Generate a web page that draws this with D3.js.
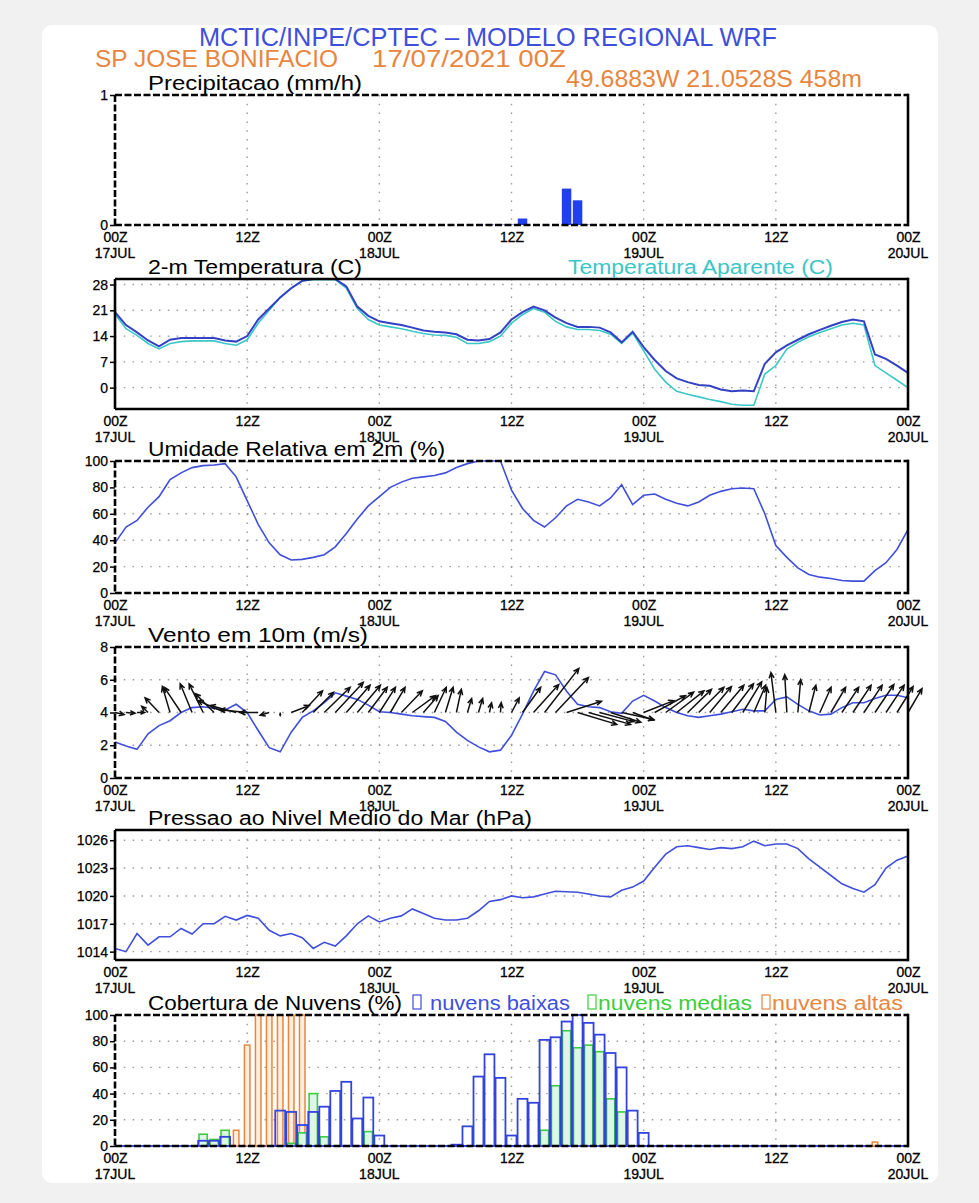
<!DOCTYPE html>
<html><head><meta charset="utf-8">
<script src="https://cdn.jsdelivr.net/npm/d3@7"></script>
<style>body{margin:0;background:#f1f1f1;}svg{display:block}</style>
</head><body><svg id="c" width="979" height="1203"></svg>
<script>
// ---------- DATA ----------
const xTicks = [0, 12, 24, 36, 48, 60, 72];
const xTickHour = ["00Z", "12Z", "00Z", "12Z", "00Z", "12Z", "00Z"];
const xTickDate = ["17JUL", "", "18JUL", "", "19JUL", "", "20JUL"];

const precip = [0,0,0,0,0,0,0,0,0,0, 0,0,0,0,0,0,0,0,0,0, 0,0,0,0,0,0,0,0,0,0,
  0,0,0,0,0.006,0.006,0.006,0.05,0,0, 0,0.28,0.19,0.006,0,0,0,0,0,0,
  0,0,0,0,0,0,0,0,0,0, 0,0,0,0,0,0,0,0,0,0, 0,0,0];
const temp2m = [20.5,17,15,12.8,11.2,13,13.5,13.5,13.5,13.5, 12.8,12.5,14,18.5,21.5,24.5,27,29,29.5,29.5,
  29.5,27.5,22,19.5,18,17.5,17,16.3,15.5,15.2, 15,14.5,13,12.8,13.2,15,18.5,20.5,22,21,
  19,17.5,16.5,16.5,16.3,15,12.3,15.2,11,7.5, 4.5,2.5,1.5,0.7,0.5,-0.5,-1,-0.8,-1,6.5,
  9.6,11.5,13,14.5,15.7,16.8,17.8,18.5,18,9, 7.8,6,4];
const tempApparent = [20,16,14.2,12,10.5,12,12.5,12.7,12.7,12.7, 12,11.5,13,17.5,21,24.5,27,29,29.3,29.3,
  29.3,27,21.5,18.5,17,16.5,16,15.3,14.7,14.3, 14.2,13.7,12,12,12.5,14,17.5,19.8,21.5,20.5,
  18,16.5,15.8,15.8,15.5,14.5,12,14.8,10,5, 1.5,-1,-1.8,-2.5,-3.2,-3.8,-4.5,-4.8,-4.8,3.7,
  6,10.5,12.3,13.8,15,16,17,17.5,17,6, 4,2,0];
const humidity = [38,50,55,65,73,86,91,95,96.5,97, 98,88,70,52,38,29,25,25.5,27,29,
  35,45,56,66,73,80,84,87,88,89, 91,95,98,100,100,100,78,64,55,50,
  57,66,71,69,66,72,82,67,74,75, 71,68,66,69,74,77,79,79.5,79,60,
  36,27,19,14,12,11,9.5,9,9,17, 23,33,48];
const windSpeed = [2.2,1.95,1.75,2.7,3.2,3.5,4.0,4.3,4.35,4.25, 4.15,4.5,4.0,2.9,1.85,1.6,2.8,3.7,4.1,4.6,
  5.2,5.0,4.8,4.45,4.05,4.0,3.9,3.8,3.75,3.7, 3.45,2.8,2.3,1.9,1.6,1.7,2.6,3.9,5.3,6.5,
  6.3,5.3,4.5,4.35,4.3,4.05,3.95,4.7,5.05,4.7, 4.3,4.0,3.8,3.7,3.8,3.9,4.05,4.2,4.1,4.1,
  4.8,4.95,4.5,4.1,3.85,3.9,4.3,4.6,4.6,4.85, 5.05,5.05,4.9];
const windU = [1.3,1.3,1.1,-0.9,-2.0,-1.1,-2.4,-1.7,-2.0,-2.7, -3.9,-3.7,-3.9,-2.6,-1.3,0,2.6,2.9,2.9,3.7,
  4.0,3.4,3.3,2.7,2.3,2.1,3.0,3.3,2.1,1.7, 1.1,0.7,0.6,0.6,0.3,0.1,1.1,2.6,3.6,4.9,
  4.7,5.0,5.6,6.0,4.9,4.3,4.6,3.0,4.3,4.4, 4.0,3.9,3.4,3.6,3.1,3.3,3.1,2.7,1.7,0.3,
  -0.7,-0.3,0.4,1.0,1.6,2.1,2.4,2.6,2.6,2.7, 2.6,2.3,2.0];
const windV = [-0.3,-0.1,0,0.9,2.1,3.7,3.6,4.1,4.1,2.7, 1.7,1.0,0.4,0,-0.4,-0.4,1.0,3.1,2.9,3.6,
  4.3,3.9,3.9,3.6,3.6,3.6,3.1,2.4,2.4,3.6, 3.6,3.3,2.0,2.0,1.4,1.4,2.1,3.6,4.0,6.3,
  5.0,1.6,-1.7,-1.7,-1.3,-1.4,-1.0,-1.1,1.7,2.4, 2.9,3.1,3.3,3.6,3.7,3.9,4.1,4.4,3.9,3.6,
  5.7,5.4,4.7,3.9,3.6,3.6,3.6,3.9,3.9,4.0, 3.9,3.7,3.4];
const pressure = [1014.35,1014.0,1015.95,1014.7,1015.6,1015.6,1016.5,1015.9,1017.0,1017.0,
  1017.8,1017.4,1017.9,1017.6,1016.3,1015.7,1015.95,1015.5,1014.35,1015.0,
  1014.6,1015.7,1017.0,1017.85,1017.2,1017.6,1017.85,1018.6,1018.1,1017.6,
  1017.4,1017.4,1017.6,1018.4,1019.4,1019.6,1020.0,1019.8,1019.9,1020.2,
  1020.5,1020.45,1020.4,1020.2,1020.0,1019.9,1020.6,1020.95,1021.6,1023.1,
  1024.5,1025.3,1025.4,1025.2,1025.0,1025.2,1025.1,1025.3,1025.9,1025.4,
  1025.6,1025.6,1025.1,1024.0,1023.1,1022.2,1021.3,1020.8,1020.4,1021.2,
  1023.0,1023.85,1024.3];
const cloudLow = [0,0,0,0,0,0,0,0,4,4, 7,0,0,0,0,27,26,16,26,30, 42,49,21,37,8,0,0,0,0,0,
  0,1,15,53,70,52,8,36,33,81, 83,95,100,94,85,71,60,27,10,0,
  0,0,0,0,0,0,0,0,0,0, 0,0,0,0,0,0,0,0,0,0, 0,0,0];
const cloudMid = [0,0,0,0,0,0,0,0,9,5, 12,0,0,0,0,0,2,10,40,7, 0,0,0,11,0,0,0,0,0,0,
  0,0,0,0,0,0,0,0,0,12, 46,88,75,77,72,36,26,0,0,0,
  0,0,0,0,0,0,0,0,0,0, 0,0,0,0,0,0,0,0,0,0, 0,0,0];
const cloudHigh = [0,0,0,0,0,0,0,0,0,0, 0,12,77,100,100,100,100,100,0,0, 0,0,0,0,0,0,0,0,0,0,
  0,0,0,0,0,0,0,0,0,0, 0,0,0,0,0,0,0,0,0,0,
  0,0,0,0,0,0,0,0,0,0, 0,0,0,0,0,0,0,0,0,3, 0,0,0];

// ---------- DRAW ----------
const svg = d3.select("#c");
const FONT = "'Liberation Sans','DejaVu Sans',Arial,sans-serif";
const BLUE = "#3f4fdc", ORANGE = "#e8863e", CYAN = "#3cc6c6", GREEN = "#3ccd3c";
svg.append("rect").attr("width", 979).attr("height", 1203).attr("fill", "#f1f1f1");
svg.append("rect").attr("x", 42).attr("y", 25).attr("width", 896).attr("height", 1158)
  .attr("rx", 10).attr("fill", "#fff");

const x = d3.scaleLinear().domain([0, 72]).range([115, 908]);
const hrs = d3.range(73);

function txt(str, px, py, size, fill, len, anchor) {
  const t = svg.append("text").attr("x", px).attr("y", py).text(str)
    .attr("font-family", FONT).attr("font-size", size).attr("fill", fill)
    .attr("text-anchor", anchor || "start");
  if (len) t.attr("textLength", len).attr("lengthAdjust", "spacingAndGlyphs");
  return t;
}

// header
txt("MCTIC/INPE/CPTEC \u2013 MODELO REGIONAL WRF", 199, 46, 25, BLUE, 578);
txt("SP JOSE BONIFACIO", 95, 67, 24, ORANGE, 243);
txt("17/07/2021 00Z", 372, 67, 24, ORANGE, 194);
txt("49.6883W 21.0528S 458m", 566, 87, 23, ORANGE, 296);

function panel(top, bottom, domain, ticks, dashed) {
  const y = d3.scaleLinear().domain(domain).range([bottom, top]);
  const grid = svg.append("g");
  const marks = svg.append("g");
  const frame = svg.append("g");
  grid.selectAll("line.h").data(ticks.filter(t => y(t) > top + 2 && y(t) < bottom - 2)).join("line")
    .attr("x1", 115).attr("x2", 908).attr("y1", d => y(d)).attr("y2", d => y(d))
    .attr("stroke", "#9a9a9a").attr("stroke-width", 1.4).attr("stroke-dasharray", "1.5,7.3");
  grid.selectAll("line.v").data([12, 24, 36, 48, 60]).join("line")
    .attr("x1", d => x(d)).attr("x2", d => x(d)).attr("y1", top).attr("y2", bottom)
    .attr("stroke", "#9a9a9a").attr("stroke-width", 1.4).attr("stroke-dasharray", "1.5,7.3");
  // y axis
  const ga = frame.append("g").attr("transform", "translate(115,0)")
    .call(d3.axisLeft(y).tickValues(ticks).tickSize(5).tickPadding(2).tickFormat(d3.format("d")));
  ga.select(".domain").remove();
  ga.selectAll("line").attr("stroke", "#000").attr("stroke-width", 1.5);
  ga.selectAll("text").attr("font-family", FONT).attr("font-size", 14).attr("fill", "#000")
    .attr("stroke", "#000").attr("stroke-width", 0.25);
  // x axis
  const gx = frame.append("g").attr("transform", `translate(0,${bottom})`)
    .call(d3.axisBottom(x).tickValues(xTicks).tickSize(0).tickPadding(7).tickFormat((d, i) => xTickHour[i]));
  gx.select(".domain").remove();
  gx.selectAll("text").attr("font-family", FONT).attr("font-size", 14).attr("fill", "#000")
    .attr("stroke", "#000").attr("stroke-width", 0.3);
  frame.selectAll("text.date").data(xTicks.filter((d, i) => xTickDate[i])).join("text")
    .attr("x", d => x(d)).attr("y", bottom + 33).attr("text-anchor", "middle")
    .attr("font-family", FONT).attr("font-size", 14).attr("stroke", "#000").attr("stroke-width", 0.3)
    .text(d => xTickDate[xTicks.indexOf(d)]);
  // box
  const da = dashed ? "7,2.5" : null;
  const seg = (x1, y1, x2, y2, d) => frame.append("line").attr("x1", x1).attr("y1", y1).attr("x2", x2).attr("y2", y2)
    .attr("stroke", "#000").attr("stroke-width", 2.6).attr("stroke-dasharray", d);
  seg(115, top, 908, top, da);
  seg(115, bottom, 908, bottom, da);
  seg(115, top, 115, bottom, da);
  seg(908, top - 1.3, 908, bottom + 1.3, null);
  return { y, marks, frame, top, bottom };
}

// 1. precipitation
{
  const p = panel(95, 225, [0, 1], [0, 1], true);
  txt("Precipitacao (mm/h)", 148, 90, 20, "#000", 214);
  p.marks.selectAll("rect").data(hrs.filter(h => precip[h] > 0)).join("rect")
    .attr("x", h => x(h - 0.43)).attr("width", x(0.86) - x(0))
    .attr("y", h => p.y(precip[h])).attr("height", h => p.y(0) - p.y(precip[h]))
    .attr("fill", h => precip[h] < 0.01 ? "#8090f0" : "#1f3ff0");
}
// 2. temperature
{
  const p = panel(279, 409, [-5.8, 29.5], [0, 7, 14, 21, 28], false);
  txt("2-m Temperatura (C)", 148, 274, 20, "#000", 214);
  txt("Temperatura Aparente (C)", 568, 274, 20, CYAN, 265);
  const line = d3.line().x(h => x(h));
  p.marks.append("path").attr("d", line.y(h => p.y(tempApparent[h]))(hrs))
    .attr("fill", "none").attr("stroke", CYAN).attr("stroke-width", 1.6);
  p.marks.append("path").attr("d", line.y(h => p.y(temp2m[h]))(hrs))
    .attr("fill", "none").attr("stroke", "#3341c4").attr("stroke-width", 2);
}
// 3. humidity
{
  const p = panel(461, 593, [0, 100], [0, 20, 40, 60, 80, 100], true);
  txt("Umidade Relativa em 2m (%)", 148, 456, 20, "#000", 297);
  p.marks.append("path").attr("d", d3.line().x(h => x(h)).y(h => p.y(humidity[h]))(hrs))
    .attr("fill", "none").attr("stroke", BLUE).attr("stroke-width", 1.6);
}
// 4. wind
{
  const p = panel(647, 778, [0, 8], [0, 2, 4, 6, 8], true);
  txt("Vento em 10m (m/s)", 148, 642, 20, "#000", 220);
  p.marks.append("path").attr("d", d3.line().x(h => x(h)).y(h => p.y(windSpeed[h]))(hrs))
    .attr("fill", "none").attr("stroke", BLUE).attr("stroke-width", 1.6);
  const k = 7, y0 = p.y(4);
  p.marks.selectAll("path.arr").data(hrs).join("path")
    .attr("d", h => {
      const x0 = x(h), dx = windU[h] * k, dy = -windV[h] * k;
      const L = Math.hypot(dx, dy);
      if (L < 0.5) return `M${x0},${y0}l0.5,0`;
      const ang = Math.atan2(dy, dx), hl = Math.min(6, L * 0.6), a = 0.42;
      const hx = x0 + dx, hy = y0 + dy;
      return `M${x0},${y0}L${hx},${hy}` +
        `M${hx - hl * Math.cos(ang - a)},${hy - hl * Math.sin(ang - a)}L${hx},${hy}` +
        `L${hx - hl * Math.cos(ang + a)},${hy - hl * Math.sin(ang + a)}`;
    })
    .attr("fill", "none").attr("stroke", "#111").attr("stroke-width", 1.5);
}
// 5. pressure
{
  const p = panel(830, 960, [1013.1, 1027.1], [1014, 1017, 1020, 1023, 1026], false);
  txt("Pressao ao Nivel Medio do Mar (hPa)", 148, 825, 20, "#000", 384);
  p.marks.append("path").attr("d", d3.line().x(h => x(h)).y(h => p.y(pressure[h]))(hrs))
    .attr("fill", "none").attr("stroke", BLUE).attr("stroke-width", 1.6);
}
// 6. clouds
{
  const p = panel(1015, 1146, [0, 100], [0, 20, 40, 60, 80, 100], true);
  txt("Cobertura de Nuvens (%)", 148, 1010, 20, "#000", 254);
  svg.append("rect").attr("x", 413).attr("y", 995).attr("width", 8).attr("height", 14)
    .attr("fill", "none").attr("stroke", BLUE).attr("stroke-width", 1.2);
  txt("nuvens baixas", 430, 1010, 20, BLUE, 140);
  svg.append("rect").attr("x", 588).attr("y", 995).attr("width", 8).attr("height", 14)
    .attr("fill", "none").attr("stroke", GREEN).attr("stroke-width", 1.2);
  txt("nuvens medias", 598, 1010, 20, GREEN, 154);
  svg.append("rect").attr("x", 762).attr("y", 995).attr("width", 8).attr("height", 14)
    .attr("fill", "none").attr("stroke", ORANGE).attr("stroke-width", 1.2);
  txt("nuvens altas", 772, 1010, 20, ORANGE, 131);
  p.marks.append("line").attr("x1", 115).attr("x2", 908).attr("y1", p.bottom).attr("y2", p.bottom)
    .attr("stroke", BLUE).attr("stroke-width", 2);
  const bars = (arr, w, stroke, fill, sw) => p.marks.append("g").selectAll("rect")
    .data(hrs.filter(h => arr[h] > 0)).join("rect")
    .attr("x", h => x(h - w / 2)).attr("width", x(w) - x(0))
    .attr("y", h => p.y(arr[h])).attr("height", h => p.y(0) - p.y(arr[h]))
    .attr("fill", fill).attr("stroke", stroke).attr("stroke-width", sw);
  bars(cloudHigh, 0.5, ORANGE, "#fdeedf", 1.5);
  bars(cloudMid, 0.75, GREEN, "#dcf7e6", 1.6);
  bars(cloudLow, 0.9, "#3344dd", "none", 1.8);
}
</script></body></html>
